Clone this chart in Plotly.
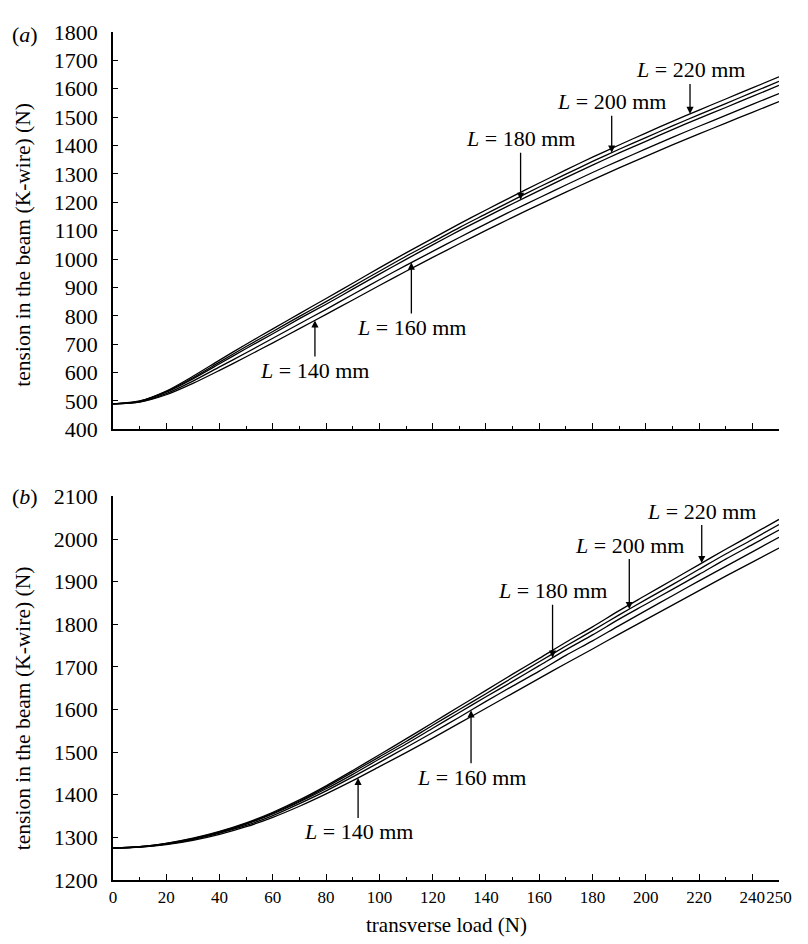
import numpy as np
import plotly.graph_objects as go

# ---------------- data ----------------
loads = [0, 10, 20, 30, 40, 50, 60, 70, 80, 90, 100, 110, 120, 130, 140,
         150, 160, 170, 180, 190, 200, 210, 220, 230, 240, 250]
lengths = [140, 160, 180, 200, 220]

# panel (a)
a_140 = [490, 496, 522, 562, 608, 656, 705, 755, 805, 856, 907, 957, 1006, 1054, 1101,
         1147, 1192, 1236, 1279, 1321, 1362, 1402, 1441, 1479, 1517, 1555]
a_160 = [490, 497, 526, 570, 620, 670, 721, 772, 823, 875, 927, 978, 1027, 1076, 1124,
         1171, 1216, 1261, 1305, 1347, 1388, 1429, 1468, 1506, 1545, 1583]
a_180 = [490, 499, 531, 578, 631, 685, 737, 790, 841, 894, 947, 999, 1050, 1100, 1148,
         1195, 1241, 1287, 1331, 1374, 1415, 1456, 1496, 1534, 1573, 1612]
a_200 = [490, 499, 533, 582, 637, 692, 745, 798, 850, 904, 957, 1010, 1060, 1111, 1159,
         1207, 1254, 1299, 1344, 1387, 1428, 1469, 1509, 1548, 1587, 1626]
a_220 = [490, 500, 535, 587, 644, 700, 754, 808, 861, 915, 969, 1022, 1073, 1124, 1173,
         1221, 1268, 1314, 1359, 1402, 1444, 1485, 1525, 1564, 1603, 1642]

# panel (b)
b_140 = [1275, 1277, 1283, 1293, 1307, 1325, 1347, 1373, 1402, 1433, 1466, 1499, 1533, 1568, 1603,
         1638, 1673, 1708, 1742, 1777, 1811, 1845, 1879, 1913, 1946, 1979]
b_160 = [1275, 1277, 1284, 1295, 1310, 1328, 1351, 1379, 1409, 1442, 1476, 1511, 1546, 1582, 1619,
         1655, 1690, 1727, 1761, 1797, 1832, 1867, 1902, 1936, 1970, 2004]
b_180 = [1275, 1278, 1285, 1296, 1311, 1331, 1355, 1383, 1414, 1448, 1484, 1519, 1556, 1593, 1630,
         1666, 1703, 1740, 1775, 1812, 1847, 1882, 1917, 1953, 1987, 2021]
b_200 = [1275, 1278, 1286, 1297, 1313, 1332, 1357, 1385, 1418, 1453, 1489, 1525, 1563, 1600, 1637,
         1675, 1712, 1749, 1785, 1822, 1858, 1893, 1929, 1965, 1999, 2034]
b_220 = [1275, 1278, 1286, 1298, 1314, 1334, 1359, 1388, 1421, 1457, 1494, 1531, 1569, 1607, 1645,
         1683, 1720, 1758, 1794, 1832, 1868, 1904, 1940, 1976, 2011, 2046]

series_a = [a_140, a_160, a_180, a_200, a_220]
series_b = [b_140, b_160, b_180, b_200, b_220]

# where the label arrows touch each curve (transverse load, N)
arrow_load_a = [75.8, 112, 153, 187.2, 216.6]
arrow_load_b = [92, 134.4, 165, 193.8, 221]

x_major = [0, 20, 40, 60, 80, 100, 120, 140, 160, 180, 200, 220, 240, 250]
x_major_text = ["0", "20", "40", "60", "80", "100", "120", "140", "160", "180",
                "200", "220", "240", "250"]
x_minor = [10, 30, 50, 70, 90, 110, 130, 150, 170, 190, 210, 230]

y_title = "tension in the beam (K-wire) (N)"
x_title = "transverse load (N)"

# ---------------- style ----------------
FONT = "Liberation Serif, Times New Roman, serif"
# the page body has an 8 px margin, so the figure is 8 px smaller each way
W, H = 800, 936
ML, MR, MT, MB = 105, 29, 12, 64
plot_h = H - MT - MB

fig = go.Figure()
for ys in series_a:
    fig.add_trace(go.Scatter(x=loads, y=ys, mode="lines", xaxis="x", yaxis="y",
                             line=dict(color="black", width=1.3, shape="spline", smoothing=0.8),
                             showlegend=False, hoverinfo="skip"))
for ys in series_b:
    fig.add_trace(go.Scatter(x=loads, y=ys, mode="lines", xaxis="x2", yaxis="y2",
                             line=dict(color="black", width=1.3, shape="spline", smoothing=0.8),
                             showlegend=False, hoverinfo="skip"))

axis_common = dict(showline=True, linecolor="black", linewidth=1.8, showgrid=False,
                   zeroline=False, ticks="inside", tickcolor="black", tickwidth=1.3,
                   tickfont=dict(family=FONT, size=22, color="black"))

xcommon = dict(axis_common, range=[0, 250], tickmode="array", tickvals=x_major,
               ticktext=x_major_text, ticklen=6, tickangle=0,
               minor=dict(tickmode="array", tickvals=x_minor, ticks="inside",
                          ticklen=3.5, tickcolor="black", tickwidth=1.2))

top_dom = [1 - 403 / plot_h, 1]
bot_dom = [0, 389 / plot_h]

fig.update_layout(
    width=W, height=H,
    margin=dict(l=ML, r=MR, t=MT, b=MB),
    paper_bgcolor="white", plot_bgcolor="white",
    font=dict(family=FONT, color="black"),
    xaxis=dict(xcommon, anchor="y", domain=[0, 1], showticklabels=False),
    yaxis=dict(axis_common, anchor="x", domain=top_dom, range=[400, 1800], dtick=100,
               ticklen=5, ticklabelstandoff=9),
    xaxis2=dict(xcommon, anchor="y2", domain=[0, 1], showticklabels=True,
                tickfont=dict(family=FONT, size=17, color="black"), ticklabelstandoff=1),
    yaxis2=dict(axis_common, anchor="x2", domain=bot_dom, range=[1200, 2100], dtick=100,
                ticklen=5, ticklabelstandoff=9),
)

ann = []
label_font = dict(family=FONT, size=22, color="black")
# vertical pixel offset of label centre from the arrow tip
offs_a = [50, 65, -61, -51, -44]
offs_b = [54, 67, -67, -64, -52]
for L, ys, xl, ay in zip(lengths, series_a, arrow_load_a, offs_a):
    ann.append(dict(x=xl, y=float(np.interp(xl, loads, ys)), xref="x", yref="y",
                    text=f"<i>L</i> = {L} mm", showarrow=True, ax=0, ay=ay,
                    arrowhead=2, arrowsize=1.1, arrowwidth=1.3, arrowcolor="black",
                    standoff=0, startstandoff=0, font=label_font))
for L, ys, xl, ay in zip(lengths, series_b, arrow_load_b, offs_b):
    ann.append(dict(x=xl, y=float(np.interp(xl, loads, ys)), xref="x2", yref="y2",
                    text=f"<i>L</i> = {L} mm", showarrow=True, ax=0, ay=ay,
                    arrowhead=2, arrowsize=1.1, arrowwidth=1.3, arrowcolor="black",
                    standoff=0, startstandoff=0, font=label_font))

# panel letters
ann.append(dict(xref="x domain", yref="y domain", x=0, y=1, xshift=-88, yshift=-2,
                text="(<i>a</i>)", showarrow=False, xanchor="center", yanchor="middle",
                font=dict(family=FONT, size=22, color="black")))
ann.append(dict(xref="x2 domain", yref="y2 domain", x=0, y=1, xshift=-88, yshift=0,
                text="(<i>b</i>)", showarrow=False, xanchor="center", yanchor="middle",
                font=dict(family=FONT, size=22, color="black")))

# y titles
ann.append(dict(xref="x domain", yref="y domain", x=0, y=0.5, xshift=-90, yshift=-14,
                text=y_title, textangle=-90, showarrow=False, xanchor="center",
                yanchor="middle", font=dict(family=FONT, size=21.5, color="black")))
ann.append(dict(xref="x2 domain", yref="y2 domain", x=0, y=0.5, xshift=-90, yshift=-20,
                text=y_title, textangle=-90, showarrow=False, xanchor="center",
                yanchor="middle", font=dict(family=FONT, size=21.5, color="black")))
# x title
ann.append(dict(xref="paper", yref="paper", x=0.5, y=0, yshift=-45,
                text=x_title, showarrow=False, xanchor="center", yanchor="middle",
                font=dict(family=FONT, size=21, color="black")))

fig.update_layout(annotations=ann)
fig.write_html("out.html")
